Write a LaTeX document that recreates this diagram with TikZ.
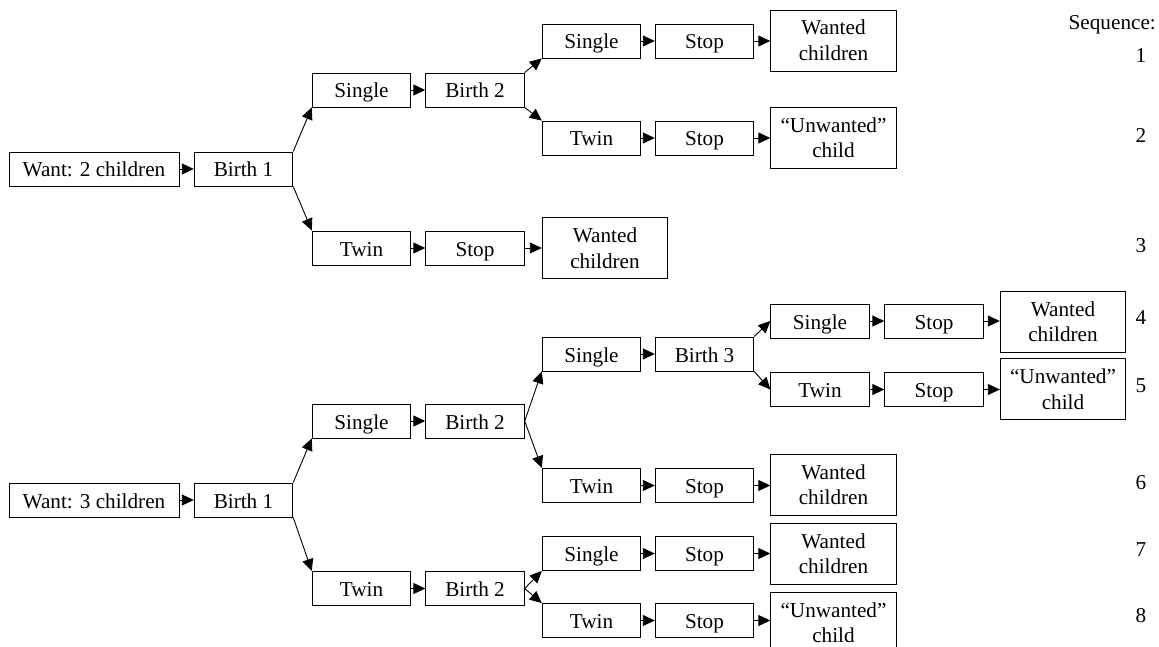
\documentclass[tikz,border=0pt]{standalone}
\usepackage{fontspec}
\setmainfont{Liberation Serif}
\usetikzlibrary{arrows.meta}
\begin{document}
\begin{tikzpicture}[x=1pt,y=-1pt,
  every node/.style={font=\fontsize{21.2}{25.5}\selectfont},
  box/.style={draw=black, line width=0.9pt, inner sep=0pt, minimum width=98.5pt, minimum height=34pt, text height=17pt, text depth=1pt},
  wbox/.style={box, minimum width=170pt},
  tbox/.style={draw=black, line width=0.9pt, inner sep=0pt, minimum width=125.5pt, minimum height=61pt, align=center},
  seq/.style={inner sep=0pt},
  arr/.style={line width=0.9pt, -{Triangle[length=12pt,width=11pt]}}]
\useasboundingbox (0,0) rectangle (1159,647);
\clip (0,0) rectangle (1159,647);
% ---------- top tree ----------
\node[wbox] (w2) at (94,169) {Want: 2 children};
\node[box] (b1a) at (243.5,169) {Birth 1};
\node[box] (s1a) at (361.5,90) {Single};
\node[box] (t1a) at (361.5,248) {Twin};
\node[box] (b2a) at (475,90) {Birth 2};
\node[box] (sta) at (475,248) {Stop};
\node[tbox] (wc3) at (605,248) {Wanted\\children};
\node[box] (s2a) at (591.5,41) {Single};
\node[box] (stb) at (704.5,41) {Stop};
\node[tbox] (wc1) at (833.5,40.5) {Wanted\\children};
\node[box] (t2a) at (591.5,138) {Twin};
\node[box] (stc) at (704.5,138) {Stop};
\node[tbox] (uc2) at (833.5,137.5) {``Unwanted''\\child};
\draw[arr] (w2) -- (b1a);
\draw[arr] (b1a.north east) -- (s1a.south west);
\draw[arr] (b1a.south east) -- (t1a.north west);
\draw[arr] (s1a) -- (b2a);
\draw[arr] (t1a) -- (sta);
\draw[arr] (sta) -- (wc3);
\draw[arr] (b2a.north east) -- (s2a.south west);
\draw[arr] (b2a.south east) -- (t2a.north west);
\draw[arr] (s2a) -- (stb);
\draw[arr] (stb) -- (wc1.west |- stb);
\draw[arr] (t2a) -- (stc);
\draw[arr] (stc) -- (uc2.west |- stc);
% ---------- bottom tree ----------
\node[wbox] (w3) at (94,500) {Want: 3 children};
\node[box] (b1b) at (243.5,500) {Birth 1};
\node[box] (s1b) at (361.5,421) {Single};
\node[box] (t1b) at (361.5,588.5) {Twin};
\node[box] (b2b) at (475,421) {Birth 2};
\node[box] (b2c) at (475,588.5) {Birth 2};
\node[box] (s2b) at (591.5,354) {Single};
\node[box] (b3) at (704.5,354) {Birth 3};
\node[box] (s3) at (820,321) {Single};
\node[box] (std) at (934,321) {Stop};
\node[tbox] (wc4) at (1063,321.5) {Wanted\\children};
\node[box] (t3) at (820,389.5) {Twin};
\node[box] (ste) at (934,389.5) {Stop};
\node[tbox] (uc5) at (1063,389) {``Unwanted''\\child};
\node[box] (t2b) at (591.5,485.5) {Twin};
\node[box] (stf) at (704.5,485.5) {Stop};
\node[tbox] (wc6) at (833.5,484.5) {Wanted\\children};
\node[box] (s2c) at (591.5,553.5) {Single};
\node[box] (stg) at (704.5,553.5) {Stop};
\node[tbox] (wc7) at (833.5,553.5) {Wanted\\children};
\node[box] (t2c) at (591.5,620.5) {Twin};
\node[box] (sth) at (704.5,620.5) {Stop};
\node[tbox] (uc8) at (833.5,622.5) {``Unwanted''\\child};
\draw[arr] (w3) -- (b1b);
\draw[arr] (b1b.north east) -- (s1b.south west);
\draw[arr] (b1b.south east) -- (t1b.north west);
\draw[arr] (s1b) -- (b2b);
\draw[arr] (t1b) -- (b2c);
\draw[arr] (b2b.east) -- (s2b.south west);
\draw[arr] (b2b.east) -- (t2b.north west);
\draw[arr] (s2b) -- (b3);
\draw[arr] (b3.north east) -- (s3.west);
\draw[arr] (b3.south east) -- (t3.west);
\draw[arr] (s3) -- (std);
\draw[arr] (std) -- (wc4.west |- std);
\draw[arr] (t3) -- (ste);
\draw[arr] (ste) -- (uc5.west |- ste);
\draw[arr] (t2b) -- (stf);
\draw[arr] (stf) -- (wc6.west |- stf);
\draw[arr] (b2c.east) -- (s2c.south west);
\draw[arr] (b2c.east) -- (t2c.north west);
\draw[arr] (s2c) -- (stg);
\draw[arr] (stg) -- (wc7.west |- stg);
\draw[arr] (t2c) -- (sth);
\draw[arr] (sth) -- (uc8.west |- sth);
% ---------- sequence ----------
\node[seq, anchor=base east] (seqh) at (1156,30) {Sequence:};
\node[seq] (n1) at (1141,55.5) {1};
\node[seq] (n2) at (1141,135.5) {2};
\node[seq] (n3) at (1141,245.5) {3};
\node[seq] (n4) at (1141,317.5) {4};
\node[seq] (n5) at (1141,385.5) {5};
\node[seq] (n6) at (1141,482.5) {6};
\node[seq] (n7) at (1141,549.5) {7};
\node[seq] (n8) at (1141,615.5) {8};
\end{tikzpicture}
\end{document}
